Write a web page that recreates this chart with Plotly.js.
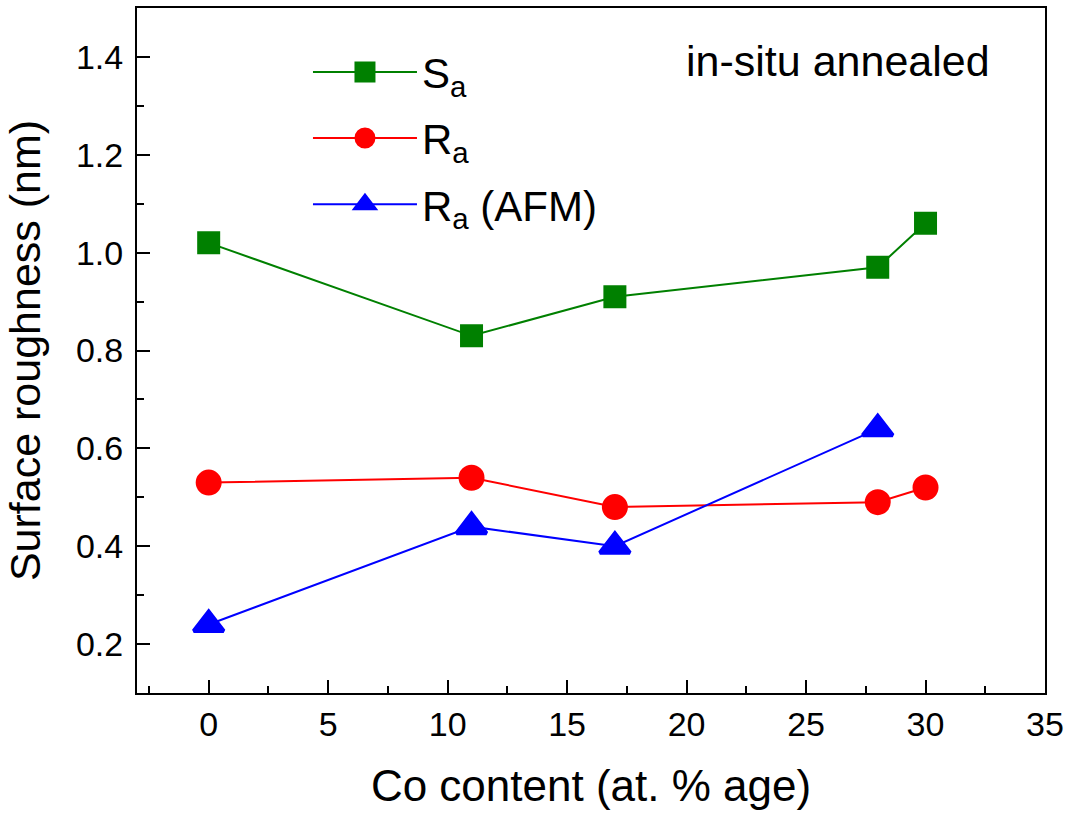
<!DOCTYPE html>
<html>
<head>
<meta charset="utf-8">
<script src="https://cdn.plot.ly/plotly-3.0.1.min.js"></script>
<style>
html,body{margin:0;padding:0;background:#fff;}
#chart{width:1070px;height:816px;}
</style>
</head>
<body>
<div id="chart"></div>
<script>
// Data
const coContent = [0, 11, 17, 28, 30];
const coContentAFM = [0, 11, 17, 28];
const Sa = [1.02, 0.83, 0.91, 0.97, 1.06];
const Ra = [0.53, 0.54, 0.48, 0.49, 0.52];
const RaAFM = [0.24, 0.44, 0.40, 0.64];
const seriesNames = ['S<sub>a</sub>', 'R<sub>a</sub>', 'R<sub>a</sub> (AFM)'];
const xTitle = 'Co content (at. % age)';
const yTitle = 'Surface roughness (nm)';
const noteText = 'in-situ annealed';

const FONT = 'Arial, "Liberation Sans", Helvetica, sans-serif';

const traces = [
  {x: coContent, y: Sa, name: seriesNames[0], legendgroup: 'g1', type: 'scatter', mode: 'lines+markers',
   line: {color: '#008000', width: 2},
   marker: {symbol: 'square', size: 18, color: '#008000', line: {color: '#008000', width: 5}}},
  {x: coContent, y: Ra, name: seriesNames[1], legendgroup: 'g2', type: 'scatter', mode: 'lines+markers',
   line: {color: '#ff0000', width: 2},
   marker: {symbol: 'circle', size: 21, color: '#ff0000', line: {color: '#ff0000', width: 5}}},
  {x: coContentAFM, y: RaAFM, name: seriesNames[2], legendgroup: 'g3', type: 'scatter', mode: 'lines+markers',
   line: {color: '#0000ff', width: 2},
   marker: {symbol: 'triangle-up', size: 26, color: '#0000ff', line: {color: '#0000ff', width: 4}}}
];

const axisCommon = {
  showline: true, linecolor: '#000', linewidth: 2, mirror: true,
  showgrid: false, zeroline: false,
  ticks: 'inside', ticklen: 13, tickwidth: 2, tickcolor: '#000',
  tickfont: {family: FONT, size: 34, color: '#000'}
};

const layout = {
  width: 1070, height: 816,
  paper_bgcolor: '#fff', plot_bgcolor: '#fff',
  margin: {l: 137, r: 25, t: 8, b: 123},
  font: {family: FONT, color: '#000'},
  showlegend: true,
  legend: {
    x: 0.1883, y: 0.956, xanchor: 'left', yanchor: 'top',
    bgcolor: 'rgba(0,0,0,0)', borderwidth: 0,
    font: {family: FONT, size: 42, color: '#000'},
    itemwidth: 104, traceorder: 'grouped', tracegroupgap: 8.5
  },
  xaxis: Object.assign({}, axisCommon, {
    range: [-3, 35], tick0: 0, dtick: 5, ticklabelstandoff: 0,
    minor: {dtick: 2.5, tick0: 0, ticks: 'inside', ticklen: 7, tickwidth: 2, tickcolor: '#000'},
    title: {text: xTitle, font: {family: FONT, size: 44, color: '#000'}, standoff: 28}
  }),
  yaxis: Object.assign({}, axisCommon, {
    range: [0.1, 1.5], tick0: 0.2, dtick: 0.2, tickformat: '.1f', ticklabelstandoff: 5,
    minor: {dtick: 0.1, tick0: 0.1, ticks: 'inside', ticklen: 7, tickwidth: 2, tickcolor: '#000'},
    title: {text: yTitle, font: {family: FONT, size: 43, color: '#000'}, standoff: 22}
  }),
  annotations: [{
    text: noteText, xref: 'paper', yref: 'paper', x: 0.9416, y: 0.922,
    xanchor: 'right', yanchor: 'middle', showarrow: false,
    font: {family: FONT, size: 43, color: '#000'}
  }]
};

Plotly.newPlot('chart', traces, layout, {displayModeBar: false, staticPlot: true});
</script>
</body>
</html>
